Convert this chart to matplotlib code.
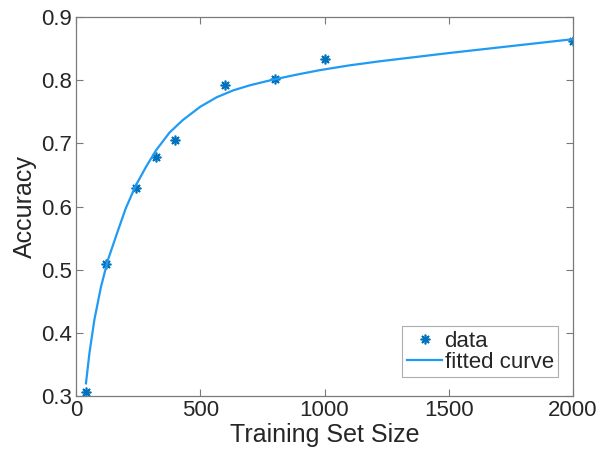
import matplotlib
matplotlib.use("Agg")
import matplotlib.pyplot as plt

# ==========================================
# DATA
# ==========================================

train_size = [40, 120, 240, 320, 400, 600, 800, 1000, 2000]
accuracy = [0.307, 0.509, 0.630, 0.678, 0.705, 0.792, 0.802, 0.834, 0.862]

# fitted curve
fit_x = [40, 54, 74, 100, 128, 168, 200, 240, 282, 322, 376, 430,
         500, 566, 633, 700, 794, 890, 982, 1100, 1223, 1500, 2000]
fit_y = [0.320, 0.368, 0.421, 0.472, 0.515, 0.561, 0.597, 0.633, 0.663,
         0.689, 0.717, 0.737, 0.758, 0.773, 0.784, 0.792, 0.801, 0.809,
         0.816, 0.8235, 0.830, 0.843, 0.865]

x_ticks = [0, 500, 1000, 1500, 2000]
y_ticks = [0.3, 0.4, 0.5, 0.6, 0.7, 0.8, 0.9]

# ==========================================
# STYLE
# ==========================================

plt.rcParams['font.family'] = ['Liberation Sans', 'DejaVu Sans']
AX_COLOR = '#7a7a7a'
TXT_COLOR = '#262626'

fig = plt.figure(figsize=(6.0, 4.61), dpi=100)
ax = fig.add_axes([0.1267, 0.141, 0.8283, 0.822])

ax.plot(train_size, accuracy, linestyle='none', marker=(8, 2, 0),
        color='#0072BD', markersize=7, markeredgewidth=1.2, label='data')
ax.plot(fit_x, fit_y, color='#1F9BF5', linewidth=1.6, label='fitted curve')

ax.set_xlim(0, 2000)
ax.set_ylim(0.3, 0.9)
ax.set_xticks(x_ticks)
ax.set_yticks(y_ticks)
ax.set_yticklabels([f"{v:.1f}" for v in y_ticks])

ax.tick_params(direction='in', length=5, width=0.8, colors=AX_COLOR,
               labelcolor=TXT_COLOR, labelsize=16, top=True, right=True,
               pad=3)
for sp in ax.spines.values():
    sp.set_color(AX_COLOR)
    sp.set_linewidth(0.9)

ax.set_xlabel("Training Set Size", fontsize=18, color=TXT_COLOR, labelpad=1)
ax.set_ylabel("Accuracy", fontsize=18, color=TXT_COLOR, labelpad=3)

# ==========================================
# LEGEND
# ==========================================

leg = ax.legend(loc='lower right', bbox_to_anchor=(0.970, 0.050),
                fontsize=16, frameon=True, fancybox=False,
                handlelength=1.6, handletextpad=0.1, borderpad=0.2,
                labelspacing=0.0, borderaxespad=0.0, numpoints=1)
leg.get_frame().set_edgecolor('#9a9a9a')
leg.get_frame().set_linewidth(0.8)
for t in leg.get_texts():
    t.set_color(TXT_COLOR)

fig.savefig("out.png", dpi=100)
